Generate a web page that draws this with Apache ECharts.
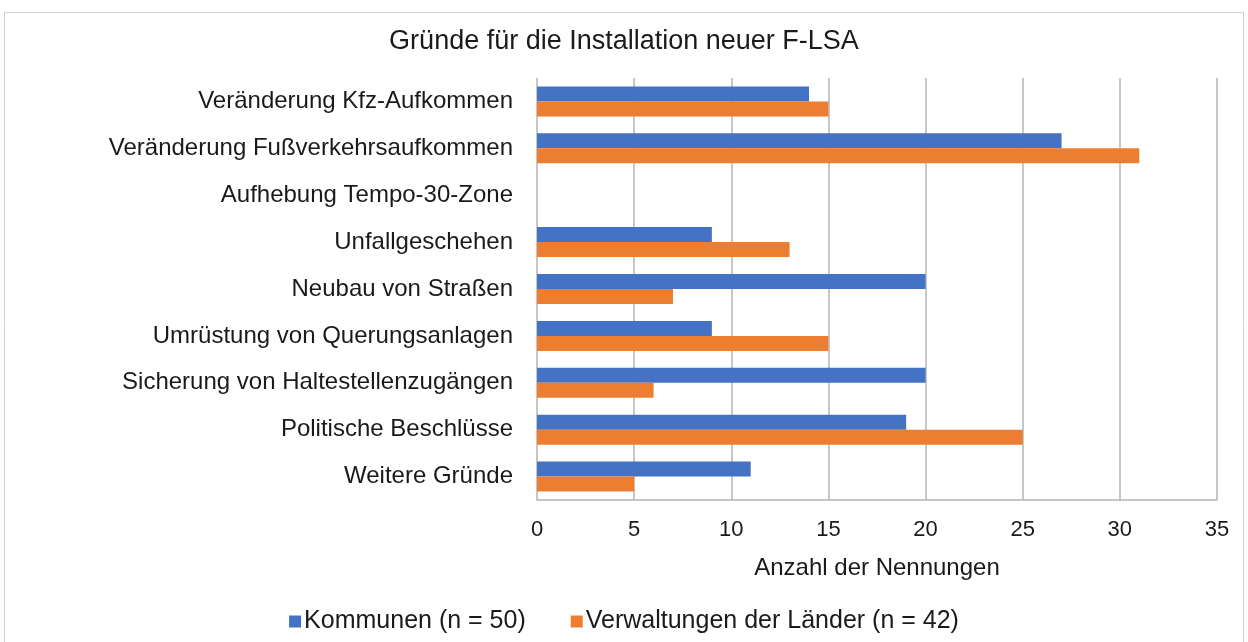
<!DOCTYPE html>
<html>
<head>
<meta charset="utf-8">
<script src="https://cdn.jsdelivr.net/npm/echarts@6/dist/echarts.min.js"></script>
<style>
html,body{margin:0;padding:0;background:#fff;}
#c{width:1248px;height:642px;}
</style>
</head>
<body>
<div id="c"></div>
<script>
const categories = [
  "Veränderung Kfz-Aufkommen",
  "Veränderung Fußverkehrsaufkommen",
  "Aufhebung Tempo-30-Zone",
  "Unfallgeschehen",
  "Neubau von Straßen",
  "Umrüstung von Querungsanlagen",
  "Sicherung von Haltestellenzugängen",
  "Politische Beschlüsse",
  "Weitere Gründe"
];
const kommunen = [14, 27, 0, 9, 20, 9, 20, 19, 11];
const laender = [15, 31, 0, 13, 7, 15, 6, 25, 5];
const seriesNames = ["Kommunen (n = 50)", "Verwaltungen der Länder (n = 42)"];
const titleText = "Gründe für die Installation neuer F-LSA";
const xAxisName = "Anzahl der Nennungen";

const font = "'Liberation Sans', Arial, sans-serif";
const chart = echarts.init(document.getElementById('c'), null, {renderer: 'canvas'});
chart.setOption({
  animation: false,
  textStyle: {fontFamily: font},
  graphic: [{
    type: 'rect',
    shape: {x: 4.5, y: 12.5, width: 1239, height: 660},
    style: {fill: 'none', stroke: '#d0d0d0', lineWidth: 1},
    silent: true
  }],
  title: {
    text: titleText,
    left: 'center',
    top: 23,
    textStyle: {fontFamily: font, fontSize: 27, fontWeight: 'normal', color: '#1a1a1a'}
  },
  legend: {
    data: seriesNames,
    bottom: 3,
    left: 'center',
    itemWidth: 12,
    itemHeight: 12,
    itemGap: 45,
    icon: 'rect',
    textStyle: {fontFamily: font, fontSize: 25, color: '#1a1a1a', padding: [0, 0, 0, -2]}
  },
  grid: {left: 537, right: 31, top: 78, bottom: 142, containLabel: false},
  xAxis: {
    type: 'value',
    min: 0, max: 35, interval: 5,
    name: xAxisName,
    nameLocation: 'middle',
    nameGap: 56,
    nameTextStyle: {fontFamily: font, fontSize: 24, color: '#1a1a1a'},
    axisLine: {show: true, lineStyle: {color: '#b4b4b4', width: 1.5}},
    axisTick: {show: false},
    axisLabel: {fontFamily: font, fontSize: 22, color: '#1a1a1a', margin: 19},
    splitLine: {show: true, lineStyle: {color: '#b4b4b4', width: 1.5}}
  },
  yAxis: {
    type: 'category',
    data: categories,
    inverse: true,
    axisLine: {show: false},
    axisTick: {show: false},
    axisLabel: {fontFamily: font, fontSize: 24, color: '#1a1a1a', margin: 24}
  },
  series: [
    {
      name: seriesNames[0], type: 'bar', data: kommunen,
      barWidth: 15, barGap: '0%',
      itemStyle: {color: '#4472C4'}
    },
    {
      name: seriesNames[1], type: 'bar', data: laender,
      barWidth: 15, barGap: '0%',
      itemStyle: {color: '#ED7D31'}
    }
  ]
});
</script>
</body>
</html>
